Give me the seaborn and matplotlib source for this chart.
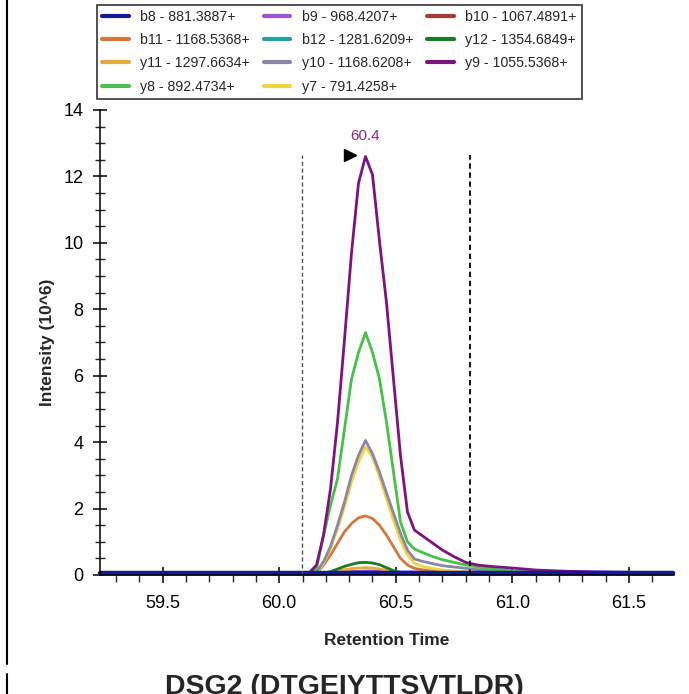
import pandas as pd
import numpy as np
import matplotlib
matplotlib.use('Agg')
import matplotlib.pyplot as plt
from matplotlib.lines import Line2D
from matplotlib.ticker import MultipleLocator
import seaborn as sns

sns.set_style('ticks')
plt.rcParams['font.family'] = ['Liberation Sans', 'DejaVu Sans']


# DATA (intensity in 10^6)

rt = [59.23, 59.60, 60.00, 60.10, 60.13, 60.16, 60.19, 60.22, 60.25, 60.28, 60.31,
      60.34, 60.37, 60.40, 60.43, 60.46, 60.49, 60.52, 60.55, 60.58, 60.62, 60.66,
      60.70, 60.75, 60.80, 60.85, 60.92, 61.00, 61.10, 61.20, 61.35, 61.50, 61.69]

b8 = [0.05] * 33
b9 = [0.05, 0.05, 0.05, 0.05, 0.05, 0.05, 0.06, 0.07, 0.08, 0.09, 0.10,
      0.11, 0.12, 0.12, 0.11, 0.10, 0.10, 0.09, 0.09, 0.09, 0.09, 0.09,
      0.09, 0.09, 0.09, 0.09, 0.09, 0.09, 0.09, 0.09, 0.09, 0.08, 0.08]
b10 = [0.04, 0.04, 0.04, 0.04, 0.04, 0.04, 0.05, 0.06, 0.07, 0.08, 0.09,
       0.10, 0.10, 0.10, 0.09, 0.08, 0.07, 0.06, 0.06, 0.05, 0.05, 0.05,
       0.05, 0.05, 0.05, 0.05, 0.04, 0.04, 0.04, 0.04, 0.04, 0.04, 0.04]
b11 = [0.03, 0.03, 0.03, 0.03, 0.03, 0.05, 0.30, 0.60, 0.95, 1.30, 1.55,
       1.72, 1.78, 1.70, 1.50, 1.20, 0.85, 0.50, 0.30, 0.20, 0.15, 0.12,
       0.10, 0.08, 0.07, 0.05, 0.05, 0.04, 0.04, 0.04, 0.04, 0.04, 0.04]
b12 = [0.03, 0.03, 0.03, 0.03, 0.03, 0.03, 0.04, 0.05, 0.06, 0.07, 0.08,
       0.08, 0.09, 0.08, 0.07, 0.06, 0.05, 0.04, 0.04, 0.03, 0.03, 0.03,
       0.03, 0.03, 0.03, 0.03, 0.03, 0.03, 0.03, 0.03, 0.03, 0.03, 0.03]
y12 = [0.03, 0.03, 0.03, 0.03, 0.03, 0.03, 0.05, 0.10, 0.18, 0.26, 0.32,
       0.37, 0.38, 0.36, 0.31, 0.22, 0.13, 0.07, 0.05, 0.04, 0.04, 0.03,
       0.03, 0.03, 0.03, 0.03, 0.03, 0.03, 0.03, 0.03, 0.03, 0.03, 0.03]
y11 = [0.03, 0.03, 0.03, 0.03, 0.03, 0.03, 0.05, 0.08, 0.12, 0.16, 0.19,
       0.21, 0.22, 0.21, 0.18, 0.14, 0.09, 0.06, 0.05, 0.04, 0.04, 0.03,
       0.03, 0.03, 0.03, 0.03, 0.03, 0.03, 0.03, 0.03, 0.03, 0.03, 0.03]
y10 = [0.04, 0.04, 0.04, 0.04, 0.04, 0.10, 0.40, 0.86, 1.50, 2.20, 3.00,
       3.60, 4.05, 3.65, 3.10, 2.47, 1.86, 1.25, 0.75, 0.48, 0.40, 0.34,
       0.28, 0.24, 0.20, 0.16, 0.12, 0.10, 0.07, 0.05, 0.05, 0.05, 0.05]
y9 = [0.05, 0.05, 0.05, 0.05, 0.08, 0.30, 1.20, 2.60, 4.60, 7.10, 9.70,
      11.80, 12.60, 12.05, 10.05, 8.20, 5.90, 3.60, 1.90, 1.35, 1.15, 0.95,
      0.75, 0.55, 0.38, 0.30, 0.25, 0.21, 0.15, 0.12, 0.09, 0.08, 0.07]
y8 = [0.04, 0.04, 0.04, 0.04, 0.06, 0.20, 1.20, 2.10, 2.90, 4.40, 5.90,
      6.70, 7.30, 6.70, 5.90, 4.60, 3.10, 1.60, 1.00, 0.78, 0.66, 0.55,
      0.46, 0.38, 0.30, 0.24, 0.18, 0.12, 0.08, 0.06, 0.05, 0.05, 0.05]
y7 = [0.04, 0.04, 0.04, 0.04, 0.04, 0.08, 0.35, 0.80, 1.40, 2.05, 2.80,
      3.40, 3.85, 3.55, 2.95, 2.30, 1.65, 1.05, 0.60, 0.35, 0.25, 0.19,
      0.15, 0.12, 0.10, 0.08, 0.07, 0.06, 0.05, 0.05, 0.05, 0.05, 0.05]

# legend order (row by row, as in the original)
ions = ['b8 - 881.3887+', 'b9 - 968.4207+', 'b10 - 1067.4891+',
        'b11 - 1168.5368+', 'b12 - 1281.6209+', 'y12 - 1354.6849+',
        'y11 - 1297.6634+', 'y10 - 1168.6208+', 'y9 - 1055.5368+',
        'y8 - 892.4734+', 'y7 - 791.4258+']
series = [b8, b9, b10, b11, b12, y12, y11, y10, y9, y8, y7]
colors = ['#14189c', '#9b55d6', '#a33a35', '#d4773c', '#2a9f9f', '#1d7a24',
          '#e9a93c', '#8a86a8', '#7e127e', '#45c247', '#f2d43e']

peak_rt = 60.37
peak_label = '60.4'
boundaries = [60.097, 60.82]


# long table for seaborn
df = pd.DataFrame({
    'Retention Time': np.tile(rt, len(ions)),
    'Intensity': np.concatenate(series),
    'ion': np.repeat(ions, len(rt)),
})
palette = dict(zip(ions, colors))

# draw the small ones first, blue baseline last
draw_order = ['b12 - 1281.6209+', 'b10 - 1067.4891+', 'b9 - 968.4207+',
              'y11 - 1297.6634+', 'y12 - 1354.6849+', 'b11 - 1168.5368+',
              'y7 - 791.4258+', 'y10 - 1168.6208+', 'y8 - 892.4734+',
              'y9 - 1055.5368+', 'b8 - 881.3887+']

fig = plt.figure(figsize=(6.89, 6.94), dpi=100)
ax = fig.add_axes([0.1451, 0.1715, 0.8337, 0.670])

sns.lineplot(data=df, x='Retention Time', y='Intensity', hue='ion',
             hue_order=draw_order, palette=palette, legend=False,
             linewidth=2.0, sort=True, errorbar=None, ax=ax)
for ln in ax.get_lines():
    ln.set_clip_on(False)
    if ln.get_color() == palette['b8 - 881.3887+']:
        ln.set_linewidth(3.2)

# integration boundaries
ax.vlines(boundaries[0], 0, 12.65, colors='#555555', linestyles=(0, (3, 2)), linewidth=1.0)
ax.vlines(boundaries[1], 0, 12.65, colors='black', linestyles=(0, (3, 2)), linewidth=1.3)

# peak marker and label
ax.plot([60.305], [12.65], marker='>', color='black', markersize=8, clip_on=False)
ax.text(peak_rt, 13.0, peak_label, color='#8a2a8a', ha='center', va='bottom', fontsize=11)

ax.set_xlim(59.231, 61.695)
ax.set_ylim(0, 14)
ax.xaxis.set_major_locator(MultipleLocator(0.5))
ax.xaxis.set_minor_locator(MultipleLocator(0.1))
ax.yaxis.set_major_locator(MultipleLocator(2))
ax.yaxis.set_minor_locator(MultipleLocator(0.5))
ax.set_xticks([59.5, 60.0, 60.5, 61.0, 61.5])
ax.set_xticklabels(['59.5', '60.0', '60.5', '61.0', '61.5'])

ax.tick_params(axis='x', which='major', direction='inout', length=11, width=1.1,
               labelsize=13, pad=9, colors='black')
ax.tick_params(axis='x', which='minor', direction='out', length=5, width=1.0)
ax.tick_params(axis='y', which='major', direction='inout', length=10, width=1.1,
               labelsize=13, pad=7, colors='black')
ax.tick_params(axis='y', which='minor', direction='inout', length=7, width=1.0)

sns.despine(ax=ax)
for s in ['left', 'bottom']:
    ax.spines[s].set_color('black')
    ax.spines[s].set_linewidth(1.1)

ax.set_xlabel('Retention Time', fontsize=12.5, fontweight='bold', labelpad=15)
ax.set_ylabel('Intensity (10^6)', fontsize=12.5, fontweight='bold', labelpad=6)

# legend, filled row-wise like the original
handles = [Line2D([0], [0], color=c, linewidth=3) for c in colors]
order = [0, 3, 6, 9, 1, 4, 7, 10, 2, 5, 8]
leg = fig.legend([handles[i] for i in order], [ions[i] for i in order],
                 ncol=3, loc='upper left', bbox_to_anchor=(97 / 689, 1 - 5 / 694),
                 borderaxespad=0, fontsize=10.2, frameon=True, fancybox=False,
                 edgecolor='black', handlelength=1.9, handletextpad=0.8,
                 columnspacing=0.95, labelspacing=0.65, borderpad=0.35)
leg.get_frame().set_linewidth(1.2)

# panel edge and caption (cut at the bottom, as in the source figure)
fig.add_artist(Line2D([7 / 689, 7 / 689], [1.0, 1 - 664 / 694], color='black', linewidth=1.5))
fig.add_artist(Line2D([7 / 689, 7 / 689], [1 - 674 / 694, 0.0], color='black', linewidth=1.5))
fig.text(0.5, 1 - 674 / 694, 'DSG2 (DTGEIYTTSVTLDR)', ha='center', va='top',
         fontsize=20.5, fontweight='bold')

fig.savefig('out.png', dpi=100)
